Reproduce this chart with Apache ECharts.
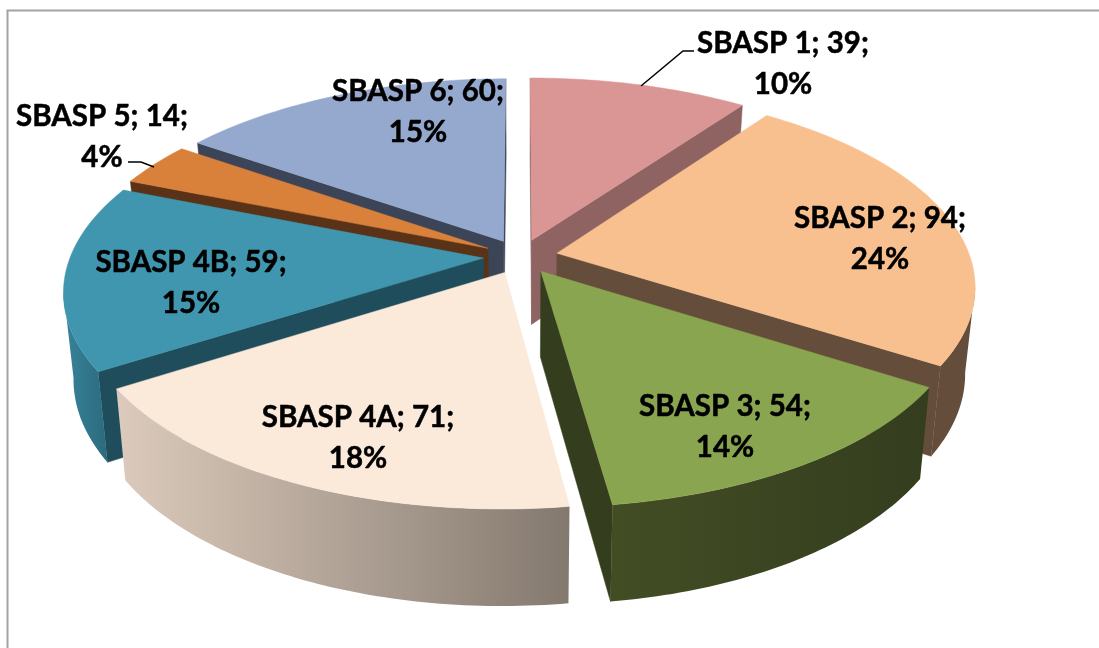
<!DOCTYPE html>
<html><head><meta charset="utf-8">
<style>html,body{margin:0;padding:0;background:#fff}#c{width:1099px;height:648px}</style>
<script src="https://cdn.jsdelivr.net/npm/echarts@6/dist/echarts.min.js"></script>
</head><body><div id="c"></div>
<script>
var categories = ['SBASP 1','SBASP 2','SBASP 3','SBASP 4A','SBASP 4B','SBASP 5','SBASP 6'];
var values = [39,94,54,71,59,14,60];
var topColors = ['#d99694','#f8c08f','#8aa54f','#fbe9da','#4096af','#d9803a','#95a9cf'];
var cutColors = ['#8f6362','#654d3b','#343e1e','#a89c91','#1f4d5c','#5a3217','#3c4557'];
var rimLeft = ['#8f6362','#654d3b','#434d24','#dccbbc','#37849b','#5a3217','#3c4557'];
var rimRight = ['#8f6362','#654d3b','#343d1e','#84796f','#2c6a7d','#5a3217','#3c4557'];
var paintOrder = [0,6,5,4,1,3,2];
var labelCenters = [[783,63.5],[880,238.5],[725,426.5],[358,437.5],[191,282.5],[102,136.5],[418,111.5]];
var leaders = [[[641,86],[683,51],[694,51]],[[128,162],[141,162],[154,167]]];

var total = values.reduce(function(a,b){return a+b;},0);
var cx=520.5, cy=256.5, R=413, K=193, P=0.16, E=0.09, D=85, LEAN=0.022;
function project(U,V,z){
  var s=1/(1+P*V), zf=1-LEAN*z;
  return [cx+R*U*s*zf, cy-K*V*s+z*D*Math.pow(s,0.7)];
}
function bounds(i){
  var a=0; for(var j=0;j<i;j++) a+=values[j];
  return [a/total*2*Math.PI,(a+values[i])/total*2*Math.PI];
}
function renderItem(params,api){
  var i=params.dataIndex, v=api.value(1), b=bounds(i), a0=b[0], a1=a0+v/total*2*Math.PI;
  var mid=(a0+a1)/2, ou=E*Math.sin(mid), ov=E*Math.cos(mid);
  function pt(t,r,z){return project(ou+r*Math.sin(t),ov+r*Math.cos(t),z);}
  var n=Math.max(12,Math.ceil((a1-a0)*60)), arc=[], k;
  for(k=0;k<=n;k++) arc.push(a0+(a1-a0)*k/n);
  var children=[], zb=paintOrder.indexOf(i)*10;
  function wall(t){
    return {type:'polygon',z2:zb+1,silent:true,
      shape:{points:[pt(t,0,0),pt(t,1,0),pt(t,1,1),pt(t,0,1)]},
      style:{fill:cutColors[i],stroke:cutColors[i],lineWidth:0.5}};
  }
  if(pt(a0,1,0)[0]<pt(a0,0,0)[0]) children.push(wall(a0));
  if(pt(a1,1,0)[0]>pt(a1,0,0)[0]) children.push(wall(a1));
  var vis=[];
  for(k=0;k<n;k++){
    if(pt(arc[k+1],1,0)[0]<pt(arc[k],1,0)[0]){
      if(!vis.length) vis.push(arc[k]);
      vis.push(arc[k+1]);
    }
  }
  if(vis.length){
    var upper=vis.map(function(t){return pt(t,1,0);});
    var lower=vis.map(function(t){return pt(t,1,1);}).reverse();
    children.push({type:'polygon',z2:zb+2,silent:true,
      shape:{points:upper.concat(lower)},
      style:{fill:new echarts.graphic.LinearGradient(0,0,1,0,[
        {offset:0,color:rimLeft[i]},{offset:1,color:rimRight[i]}]),stroke:null}});
  }
  var top=[pt(a0,0,0)];
  arc.forEach(function(t){top.push(pt(t,1,0));});
  children.push({type:'polygon',z2:zb+3,silent:true,shape:{points:top},
    style:{fill:topColors[i],stroke:topColors[i],lineWidth:0.5}});
  children.push({type:'text',z2:200,silent:true,
    style:{x:labelCenters[i][0],y:labelCenters[i][1],
      text:categories[i]+'; '+v+';\n'+Math.round(v/total*100)+'%',
      fill:'#000',stroke:'#000',lineWidth:0.5,font:'bold 29.5px Lato',align:'center',verticalAlign:'middle',lineHeight:41}});
  return {type:'group',children:children};
}
var chart=echarts.init(document.getElementById('c'),null,{renderer:'canvas'});
chart.setOption({
  animation:false,
  backgroundColor:'#fff',
  graphic:{elements:[
    {type:'polyline',z:0,silent:true,shape:{points:[[7.5,648],[7.5,10.5],[1099,10.5]]},
      style:{stroke:'#a3a3a3',lineWidth:2,fill:null}}
  ].concat(leaders.map(function(p){
    return {type:'polyline',z:10,silent:true,shape:{points:p},style:{stroke:'#000',lineWidth:1.5,fill:null}};
  }))},
  series:[{type:'custom',coordinateSystem:'none',renderItem:renderItem,
    data:categories.map(function(c,i){return {name:c,value:[i,values[i]]};})}]
});
</script></body></html>
